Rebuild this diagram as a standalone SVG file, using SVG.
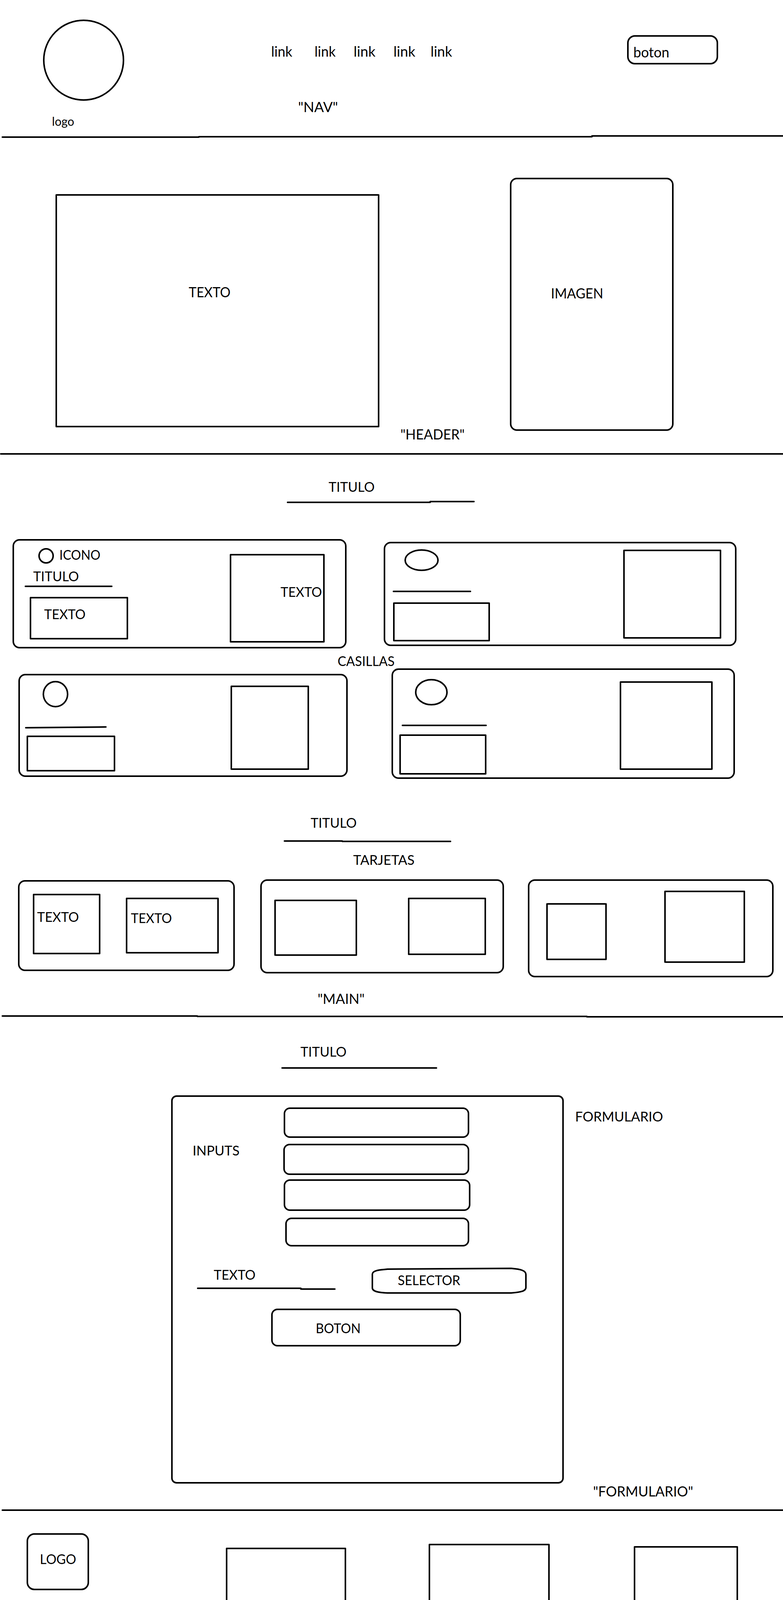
<svg xmlns="http://www.w3.org/2000/svg" width="2004" height="6048" viewBox="0 0 2004 6048">
<style>
.s{fill:none;stroke:#000;stroke-width:4;stroke-linecap:round;stroke-linejoin:round}
.t{font-family:Lato,'Liberation Sans',sans-serif;font-size:34px;fill:#000}
.b{font-size:37px}
</style>
<rect x="0" y="0" width="2004" height="6048" fill="#fff"/>
<g id="dividers">
<path class="s" d="M6,351 L509,351 M509,350 L1515,350 M1515,348 L2004,348"/>
<path class="s" d="M2,1162 L2004,1162"/>
<path class="s" d="M6,2601 L505,2601 M505,2602 L1502,2602 M1502,2603 L2004,2603"/>
<path class="s" d="M6,3866 L2004,3866"/>
</g>
<g id="nav">
<g id="nav-logo"><circle class="s" cx="214" cy="154" r="102"/><text class="t" x="133" y="322" style="font-size:31px" textLength="57" lengthAdjust="spacingAndGlyphs">logo</text></g>
<g id="nav-links">
<text class="t b" x="694" y="145" textLength="54" lengthAdjust="spacingAndGlyphs">link</text>
<text class="t b" x="805" y="145" textLength="54" lengthAdjust="spacingAndGlyphs">link</text>
<text class="t b" x="905" y="145" textLength="56" lengthAdjust="spacingAndGlyphs">link</text>
<text class="t b" x="1007" y="145" textLength="56" lengthAdjust="spacingAndGlyphs">link</text>
<text class="t b" x="1102" y="145" textLength="55" lengthAdjust="spacingAndGlyphs">link</text>
</g>
<g id="nav-boton"><rect class="s" x="1607" y="92" width="229" height="71" rx="18"/><text class="t b" x="1621" y="147" textLength="92" lengthAdjust="spacingAndGlyphs">boton</text></g>
<text class="t b" x="763" y="287" textLength="102" lengthAdjust="spacingAndGlyphs">"NAV"</text>
</g>
<g id="header">
<g id="header-texto"><rect class="s" x="144" y="499" width="825" height="593"/><text class="t b" x="483" y="761" textLength="107" lengthAdjust="spacingAndGlyphs">TEXTO</text></g>
<g id="header-imagen"><rect class="s" x="1307" y="457" width="415" height="644" rx="16"/><text class="t b" x="1410" y="764" textLength="134" lengthAdjust="spacingAndGlyphs">IMAGEN</text></g>
<text class="t b" x="1025" y="1125" textLength="164" lengthAdjust="spacingAndGlyphs">"HEADER"</text>
</g>
<g id="main">
<g id="titulo-casillas"><text class="t" x="841" y="1259" textLength="118" lengthAdjust="spacingAndGlyphs">TITULO</text><path class="s" d="M736,1286 L1101,1286 M1101,1284 L1213,1284"/></g>
<g id="casilla-1">
<rect class="s" x="34" y="1382" width="851" height="276" rx="16"/>
<circle class="s" cx="118" cy="1423" r="18"/>
<text class="t" x="152" y="1433" textLength="105" lengthAdjust="spacingAndGlyphs">ICONO</text>
<text class="t" x="85" y="1488" textLength="117" lengthAdjust="spacingAndGlyphs">TITULO</text>
<path class="s" d="M65,1501 L286,1501"/>
<rect class="s" x="78" y="1530" width="248" height="105"/>
<text class="t" x="113" y="1585" textLength="106" lengthAdjust="spacingAndGlyphs">TEXTO</text>
<rect class="s" x="590" y="1420" width="239" height="223"/>
<text class="t" x="718" y="1528" textLength="106" lengthAdjust="spacingAndGlyphs">TEXTO</text>
</g>
<g id="casilla-2">
<rect class="s" x="984" y="1389" width="899" height="263" rx="16"/>
<ellipse class="s" cx="1079" cy="1434" rx="42" ry="26"/>
<path class="s" d="M1007,1514 L1204,1514"/>
<rect class="s" x="1008" y="1544" width="244" height="96"/>
<rect class="s" x="1597" y="1409" width="247" height="224"/>
</g>
<text id="casillas-label" class="t" x="864" y="1705" textLength="146" lengthAdjust="spacingAndGlyphs">CASILLAS</text>
<g id="casilla-3">
<rect class="s" x="49" y="1727" width="839" height="260" rx="16"/>
<ellipse class="s" cx="142" cy="1777" rx="31" ry="32"/>
<path class="s" d="M66,1863 L271,1861"/>
<rect class="s" x="70" y="1885" width="223" height="88"/>
<rect class="s" x="592" y="1757" width="197" height="212"/>
</g>
<g id="casilla-4">
<rect class="s" x="1004" y="1713" width="875" height="279" rx="16"/>
<ellipse class="s" cx="1104" cy="1772" rx="40" ry="32"/>
<path class="s" d="M1030,1857 L1244,1857"/>
<rect class="s" x="1024" y="1882" width="219" height="99"/>
<rect class="s" x="1588" y="1746" width="234" height="223"/>
</g>
<g id="titulo-tarjetas"><text class="t" x="795" y="2119" textLength="118" lengthAdjust="spacingAndGlyphs">TITULO</text><path class="s" d="M728,2153 L876,2153 M876,2154 L1153,2154"/></g>
<text id="tarjetas-label" class="t" x="904" y="2214" textLength="157" lengthAdjust="spacingAndGlyphs">TARJETAS</text>
<g id="tarjeta-1">
<rect class="s" x="48" y="2255" width="551" height="229" rx="16"/>
<rect class="s" x="86" y="2290" width="169" height="151"/>
<text class="t" x="95" y="2360" textLength="107" lengthAdjust="spacingAndGlyphs">TEXTO</text>
<rect class="s" x="324" y="2300" width="234" height="139"/>
<text class="t" x="335" y="2363" textLength="105" lengthAdjust="spacingAndGlyphs">TEXTO</text>
</g>
<g id="tarjeta-2">
<rect class="s" x="668" y="2253" width="620" height="237" rx="16"/>
<rect class="s" x="704" y="2305" width="208" height="140"/>
<rect class="s" x="1046" y="2300" width="196" height="143"/>
</g>
<g id="tarjeta-3">
<rect class="s" x="1353" y="2253" width="625" height="247" rx="16"/>
<rect class="s" x="1400" y="2314" width="151" height="142"/>
<rect class="s" x="1702" y="2282" width="203" height="181"/>
</g>
<text class="t b" x="813" y="2570" textLength="120" lengthAdjust="spacingAndGlyphs">"MAIN"</text>
</g>
<g id="formulario">
<g id="titulo-form"><text class="t" x="769" y="2705" textLength="118" lengthAdjust="spacingAndGlyphs">TITULO</text><path class="s" d="M722,2734 L1117,2734"/></g>
<g id="form-box">
<rect class="s" x="440" y="2806" width="1001" height="990" rx="12"/>
</g>
<text id="form-label" class="t" x="1472" y="2871" textLength="225" lengthAdjust="spacingAndGlyphs">FORMULARIO</text>
<g id="inputs">
<text class="t" x="493" y="2958" textLength="120" lengthAdjust="spacingAndGlyphs">INPUTS</text>
<rect class="s" x="728" y="2837" width="471" height="74" rx="14"/>
<rect class="s" x="727" y="2930" width="472" height="76" rx="14"/>
<rect class="s" x="728" y="3021" width="474" height="77" rx="14"/>
<rect class="s" x="732" y="3119" width="467" height="70" rx="14"/>
</g>
<g id="form-texto"><text class="t" x="547" y="3276" textLength="107" lengthAdjust="spacingAndGlyphs">TEXTO</text><path class="s" d="M506,3298 L770,3298 M770,3300 L857,3300"/></g>
<g id="selector">
<path class="s" d="M953,3262 C953,3253 968,3251 992,3249 L1308,3247 C1334,3249 1346,3253 1346,3263 L1346,3296 C1346,3305 1334,3308 1308,3310 L992,3310 C968,3309 953,3306 953,3297 Z"/>
<text class="t" x="1018" y="3290" textLength="160" lengthAdjust="spacingAndGlyphs">SELECTOR</text>
</g>
<g id="boton-form"><rect class="s" x="696" y="3352" width="482" height="93" rx="14"/><text class="t" x="808" y="3413" textLength="115" lengthAdjust="spacingAndGlyphs">BOTON</text></g>
<text class="t b" x="1518" y="3831" textLength="256" lengthAdjust="spacingAndGlyphs">"FORMULARIO"</text>
</g>
<g id="footer">
<g id="footer-logo"><rect class="s" x="70" y="3927" width="156" height="142" rx="18"/><text class="t" x="102" y="4004" textLength="93" lengthAdjust="spacingAndGlyphs">LOGO</text></g>
<g id="footer-texto"><rect class="s" x="19" y="4121" width="268" height="115"/><text class="t" x="73" y="4171" textLength="106" lengthAdjust="spacingAndGlyphs">TEXTO</text></g>
<g id="redes">
<ellipse class="s" cx="52" cy="4310" rx="35" ry="38"/>
<ellipse class="s" cx="153" cy="4312" rx="46" ry="42"/>
<ellipse class="s" cx="274" cy="4320" rx="44" ry="43"/>
<text class="t" x="83" y="4410" textLength="102" lengthAdjust="spacingAndGlyphs">REDES</text>
</g>
<g id="footer-col-1"><rect class="s" x="580" y="3964" width="304" height="391"/><text class="t" x="653" y="4169" textLength="106" lengthAdjust="spacingAndGlyphs">TEXTO</text></g>
<g id="footer-col-2"><rect class="s" x="1099" y="3954" width="306" height="401"/><text class="t" x="1159" y="4132" textLength="106" lengthAdjust="spacingAndGlyphs">TEXTO</text></g>
<g id="footer-col-3"><rect class="s" x="1624" y="3960" width="263" height="413"/><text class="t" x="1690" y="4142" textLength="106" lengthAdjust="spacingAndGlyphs">TEXTO</text></g>
</g>
</svg>
